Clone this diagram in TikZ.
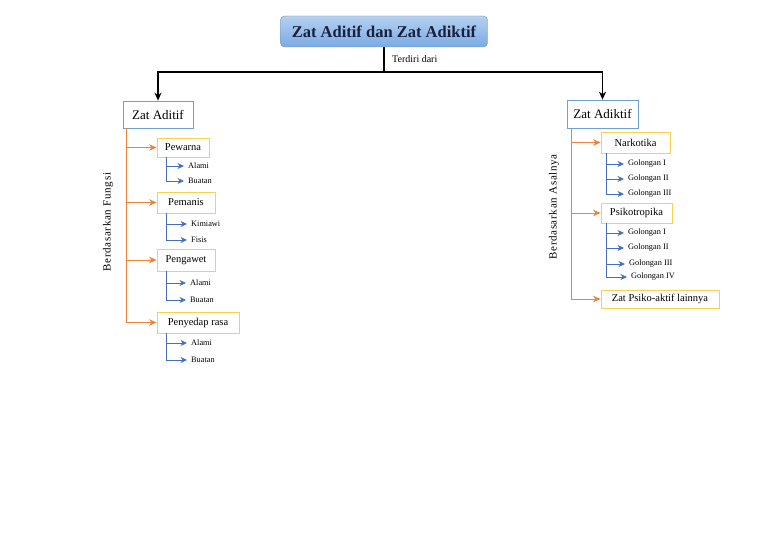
\documentclass[tikz,border=0pt]{standalone}
\usepackage{fontspec}
\setmainfont{Liberation Serif}
\newfontfamily\spacedfont[LetterSpace=6]{Liberation Serif}
\usetikzlibrary{arrows.meta,shadings}
\definecolor{orng}{RGB}{236,130,60}
\definecolor{blu}{RGB}{70,110,190}
\definecolor{ylw}{RGB}{250,208,80}
\definecolor{bbox}{RGB}{110,160,215}
\definecolor{navy}{RGB}{22,33,62}
\definecolor{ttop}{RGB}{182,208,240}
\definecolor{tbot}{RGB}{122,170,226}
\begin{document}
\begin{tikzpicture}[x=1pt,y=-1pt,
  titlebox/.style={rounded corners=4pt,top color=ttop,bottom color=tbot,draw=tbot!90!black,line width=0.4pt,
    minimum width=207pt,minimum height=31pt,inner sep=0pt,font=\fontsize{16.5}{18}\selectfont\bfseries,text=navy},
  mainbox/.style={draw=bbox,line width=0.7pt,fill=white,inner sep=0pt,font=\fontsize{13}{15}\selectfont},
  subbox/.style={draw=ylw,line width=0.9pt,fill=white,inner sep=0pt,font=\fontsize{10.5}{12}\selectfont},
  leaf/.style={anchor=west,inner sep=1pt,font=\fontsize{8.3}{10}\selectfont},
  mainline/.style={line width=1.3pt,black},
  mainarrow/.style={line width=1.3pt,black,-{Stealth[length=8pt,width=7pt]}},
  oarrow/.style={line width=1pt,orng,-{Stealth[length=7.5pt,width=6.5pt]}},
  barrow/.style={line width=0.8pt,blu,-{Stealth[length=6.5pt,width=6pt]},shorten >=3pt},
  sidelabel/.style={rotate=90,inner sep=0pt,font=\spacedfont\fontsize{11}{13}\selectfont}
]
\useasboundingbox (0,0) rectangle (768,543);
\fill[white] (0,0) rectangle (768,543);

% title
\node[titlebox] (title) at (384,31.5) {Zat Aditif dan Zat Adiktif};
\coordinate (j) at (384,72);
\node[anchor=west,inner sep=0pt,font=\fontsize{10}{12}\selectfont] (terdiri) at (392,59) {Terdiri dari};

% main boxes
\node[mainbox,minimum width=70pt,minimum height=27pt] (aditif) at (158,114.5) {Zat Aditif};
\node[mainbox,minimum width=71pt,minimum height=28pt] (adiktif) at (602.5,114) {Zat Adiktif};

\draw[mainline] (title.south) -- (j);
\draw[mainarrow] (j) -| (aditif.north);
\draw[mainarrow] (j) -| (adiktif.north);

% left side boxes
\node[subbox,minimum width=52pt,minimum height=19pt] (pewarna) at (183,147.5) {Pewarna};
\node[subbox,minimum width=58pt,minimum height=21pt] (pemanis) at (186,202.5) {Pemanis};
\node[subbox,minimum width=58pt,minimum height=22pt] (pengawet) at (186,260) {Pengawet};
\node[subbox,minimum width=82pt,minimum height=21pt] (penyedap) at (198,322.5) {Penyedap rasa};

\node[sidelabel] (fungsi) at (108,222) {Berdasarkan Fungsi};

\draw[oarrow] ([xshift=4pt]aditif.south west) |- (pewarna.west);
\draw[oarrow] ([xshift=4pt]aditif.south west) |- (pemanis.west);
\draw[oarrow] ([xshift=4pt]aditif.south west) |- (pengawet.west);
\draw[oarrow] ([xshift=4pt]aditif.south west) |- (penyedap.west);

% left leaves
\node[leaf] (a1) at (187,166) {Alami};
\node[leaf] (b1) at (187,181) {Buatan};
\node[leaf] (k2) at (190,224) {Kimiawi};
\node[leaf] (f2) at (190,240) {Fisis};
\node[leaf] (a3) at (189,283) {Alami};
\node[leaf] (b3) at (189,300) {Buatan};
\node[leaf] (a4) at (190,343) {Alami};
\node[leaf] (b4) at (190,360) {Buatan};

\draw[barrow] ([xshift=10pt]pewarna.south west) |- (a1.west);
\draw[barrow] ([xshift=10pt]pewarna.south west) |- (b1.west);
\draw[barrow] ([xshift=10pt]pemanis.south west) |- (k2.west);
\draw[barrow] ([xshift=10pt]pemanis.south west) |- (f2.west);
\draw[barrow] ([xshift=10pt]pengawet.south west) |- (a3.west);
\draw[barrow] ([xshift=10pt]pengawet.south west) |- (b3.west);
\draw[barrow] ([xshift=10pt]penyedap.south west) |- (a4.west);
\draw[barrow] ([xshift=10pt]penyedap.south west) |- (b4.west);

% right side boxes
\node[subbox,minimum width=69pt,minimum height=21pt] (narkotika) at (635.5,142.5) {Narkotika};
\node[subbox,minimum width=71pt,minimum height=20pt] (psiko) at (636.5,213) {Psikotropika};
\node[subbox,minimum width=118pt,minimum height=18pt] (lainnya) at (660,299) {Zat Psiko-aktif lainnya};

\node[sidelabel] (asal) at (554,207) {Berdasarkan Asalnya};

\draw[oarrow] ([xshift=5pt]adiktif.south west) |- (narkotika.west);
\draw[oarrow] ([xshift=5pt]adiktif.south west) |- (psiko.west);
\draw[oarrow] ([xshift=5pt]adiktif.south west) |- (lainnya.west);

% right leaves
\node[leaf] (n1) at (627,164) {Golongan I};
\node[leaf] (n2) at (627,179) {Golongan II};
\node[leaf] (n3) at (627,194) {Golongan III};
\node[leaf] (p1) at (627,233) {Golongan I};
\node[leaf] (p2) at (627,248) {Golongan II};
\node[leaf] (p3) at (628,264) {Golongan III};
\node[leaf] (p4) at (630,277) {Golongan IV};

\draw[barrow] ([xshift=6pt]narkotika.south west) |- (n1.west);
\draw[barrow] ([xshift=6pt]narkotika.south west) |- (n2.west);
\draw[barrow] ([xshift=6pt]narkotika.south west) |- (n3.west);
\draw[barrow] ([xshift=6pt]psiko.south west) |- (p1.west);
\draw[barrow] ([xshift=6pt]psiko.south west) |- (p2.west);
\draw[barrow] ([xshift=6pt]psiko.south west) |- (p3.west);
\draw[barrow] ([xshift=6pt]psiko.south west) |- (p4.west);
\end{tikzpicture}
\end{document}
